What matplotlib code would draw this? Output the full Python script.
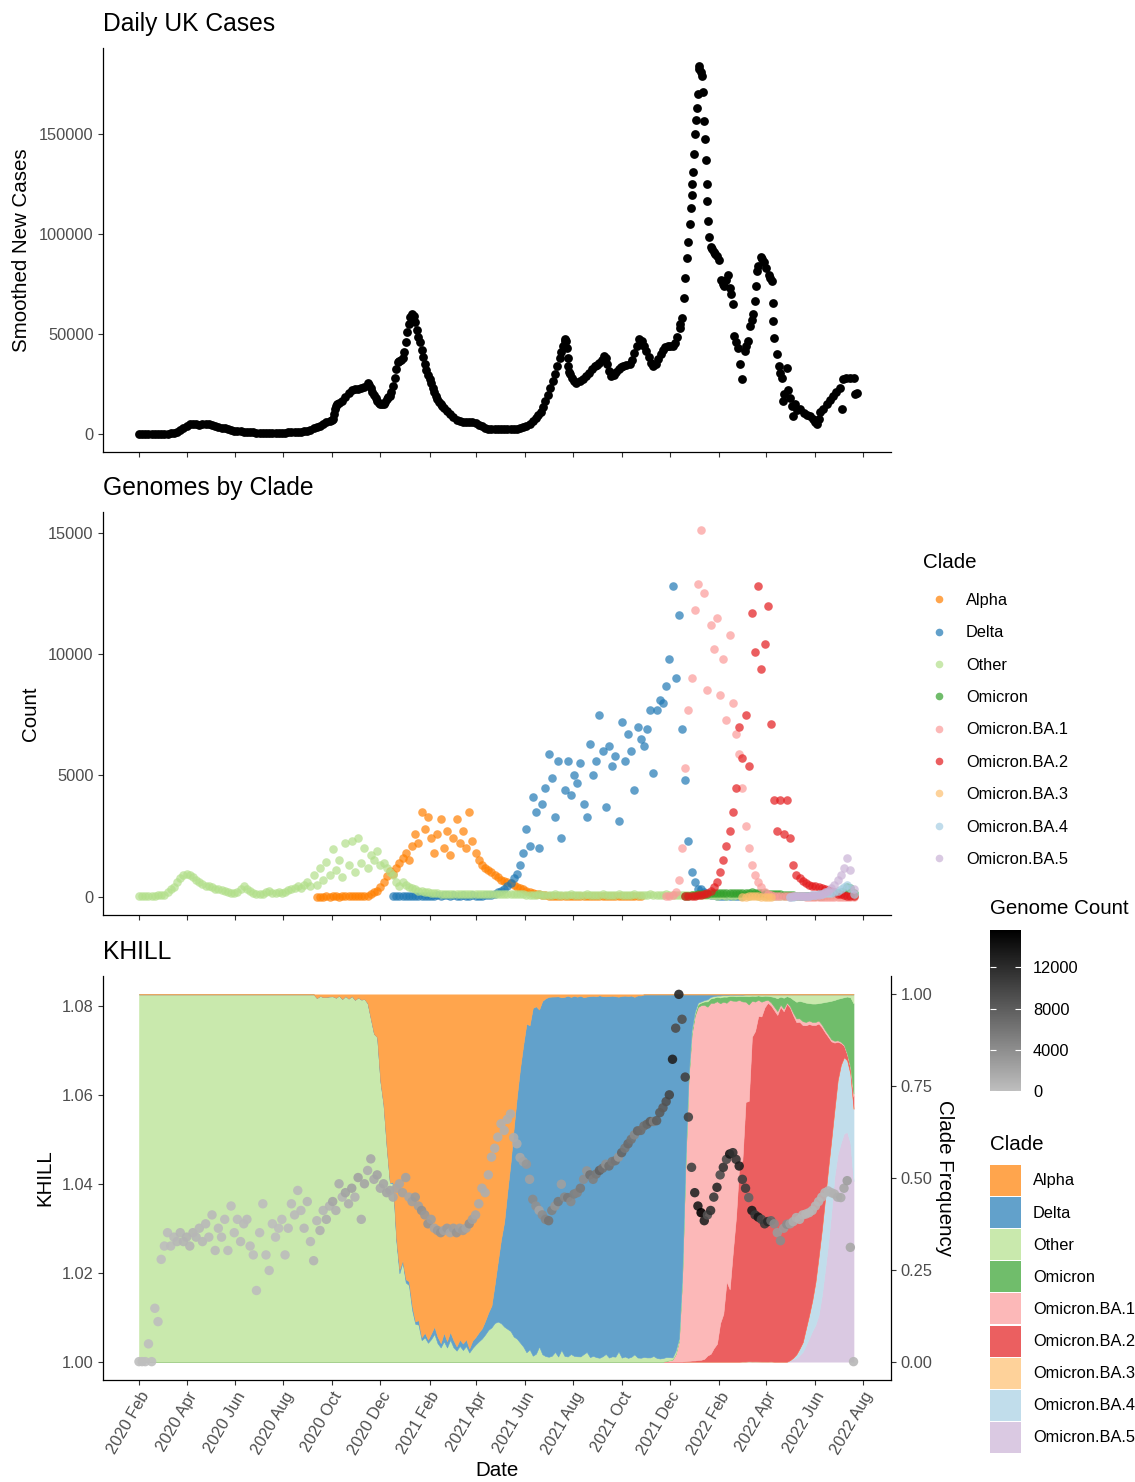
import numpy as np
import matplotlib
matplotlib.use("Agg")
import matplotlib.pyplot as plt
import matplotlib.dates as mdates
from matplotlib.colors import LinearSegmentedColormap, Normalize, to_rgb
from matplotlib.lines import Line2D
from matplotlib.patches import Patch

plt.rcParams['font.family'] = ['Liberation Sans', 'DejaVu Sans']

t0 = np.datetime64('2020-02-01')

# smoothed new UK cases as (day since 2020-02-01, cases)
uk_cases = [
    (0, 0), (4, 0), (8, 0), (12, 0), (16, 0), (20, 0), (24, 0), (28, 0), (32, 0), (36, 50),
    (40, 100), (44, 200), (48, 700), (52, 1800), (56, 3000), (60, 3900), (64, 4600), (68, 4800),
    (72, 4600), (76, 4500), (80, 4600), (84, 4800), (88, 4600), (92, 4200), (96, 3800), (100, 3400),
    (104, 3000), (108, 2600), (112, 2200), (116, 1800), (120, 1500), (124, 1300), (128, 1100),
    (132, 950), (136, 800), (140, 700), (144, 600), (148, 500), (152, 400), (156, 350), (160, 300),
    (164, 250), (168, 250), (172, 300), (176, 350), (180, 450), (184, 550), (188, 650), (192, 700),
    (196, 800), (200, 900), (204, 1000), (208, 1200), (212, 1500), (216, 2000), (220, 2600),
    (224, 3100), (228, 3800), (232, 4800), (236, 5600), (240, 6400), (243, 7000), (245, 7300),
    (246, 10000), (247, 12500), (248, 14000), (249, 14800), (252, 15500), (256, 16500), (260, 18500),
    (264, 20500), (268, 22000), (272, 22300), (276, 22500), (280, 22700), (284, 23500), (288, 25500),
    (290, 24500), (292, 23000), (294, 21000), (296, 19500), (298, 18000), (300, 16500), (302, 15500),
    (304, 15000), (306, 14800), (308, 15000), (310, 16000), (312, 17500), (314, 18500), (316, 19000),
    (318, 21000), (320, 24000), (322, 28000), (324, 32500), (326, 36000), (328, 36500), (330, 37000),
    (332, 38000), (334, 41000), (336, 46000), (338, 51000), (340, 55000), (342, 58500), (344, 60000),
    (346, 59000), (348, 56000), (350, 52000), (352, 48500), (354, 46000), (356, 42000), (358, 38500),
    (360, 35000), (362, 32000), (364, 29500), (366, 27500), (368, 25500), (370, 23000), (372, 21000),
    (374, 19000), (376, 17500), (378, 16000), (380, 14800), (382, 13800), (384, 13000), (388, 11500),
    (392, 10000), (396, 8100), (400, 7000), (404, 6300), (408, 6000), (412, 5800), (416, 5700),
    (420, 5600), (424, 5200), (428, 4500), (432, 3600), (436, 2800), (440, 2400), (444, 2300),
    (448, 2300), (452, 2300), (456, 2300), (460, 2200), (464, 2100), (468, 2100), (472, 2200),
    (476, 2400), (480, 2800), (484, 3100), (488, 3800), (492, 4800), (496, 6200), (500, 7800),
    (503, 9500), (506, 11000), (509, 13500), (512, 16500), (515, 19500), (518, 23100), (521, 26500),
    (524, 30000), (527, 34000), (530, 38000), (532, 41000), (534, 44000), (536, 46500), (537, 47200),
    (538, 46500), (539, 43000), (540, 38000), (541, 34000), (542, 31000), (543, 29800), (545, 28000),
    (548, 26500), (551, 25600), (555, 26500), (559, 27500), (563, 28900), (567, 30500), (571, 32500),
    (574, 33900), (577, 34500), (580, 35500), (583, 37000), (586, 38900), (588, 38000), (590, 35000),
    (592, 31500), (595, 28900), (598, 29500), (601, 31000), (604, 32500), (607, 33500), (610, 33900),
    (614, 34200), (618, 34700), (621, 37000), (624, 40500), (627, 44000), (630, 47200), (633, 46500),
    (636, 44000), (639, 41500), (642, 38500), (645, 35500), (648, 33900), (651, 35000), (654, 37500),
    (657, 40000), (660, 42000), (663, 43500), (666, 43900), (669, 43900), (672, 44000), (675, 45500),
    (678, 48500), (681, 53000), (682, 55000), (684, 58000), (686, 68000), (688, 78000), (690, 88000),
    (692, 96000), (694, 105000), (695, 113000), (696, 119500), (697, 125000), (698, 131000),
    (699, 140000), (700, 150000), (702, 157000), (703, 163000), (704, 170000), (705, 182500),
    (706, 184000), (708, 181000), (709, 179000), (711, 171000), (712, 156500), (713, 147700),
    (714, 137000), (715, 125000), (716, 116500), (717, 106500), (718, 98700), (720, 93700),
    (722, 92500), (724, 91000), (726, 90000), (728, 89000), (731, 87000), (733, 77000), (735, 75000),
    (737, 74000), (740, 77000), (742, 79600), (744, 73000), (746, 70000), (748, 64700), (750, 48900),
    (752, 46000), (755, 43000), (757, 34700), (760, 27300), (763, 41400), (765, 44000), (767, 46400),
    (770, 53800), (772, 57000), (774, 59700), (776, 66300), (777, 73800), (778, 81300), (780, 84000),
    (783, 88700), (785, 87500), (787, 86200), (790, 83000), (793, 79600), (795, 78000), (797, 76300),
    (798, 65500), (799, 56300), (800, 48000), (803, 39700), (806, 33900), (808, 30500), (810, 28100),
    (811, 16500), (813, 20000), (816, 33000), (818, 22000), (820, 18000), (822, 14000), (824, 9000),
    (826, 14800), (829, 12000), (833, 12300), (837, 10500), (841, 9500), (845, 9000), (849, 7500),
    (852, 6000), (854, 4800), (856, 7500), (858, 10600), (862, 12500), (866, 14800), (870, 17000),
    (874, 18900), (878, 21000), (883, 23100), (885, 12300), (887, 27300), (891, 28100), (895, 28100),
    (900, 28100), (902, 20000), (904, 20600),
]

# genomes per clade, sampled every 4 days from 2020-02-01 (index 0..225)
sample_day = np.arange(0, 901, 4)

other_counts = [
    10, 20, 20, 30, 30, 40, 50, 60, 80,
    200, 300, 400, 600, 780, 900, 950, 900, 800, 680, 600,
    520, 460, 420, 380, 330, 300, 260, 230, 200, 170, 150,
    200, 330, 420, 330, 220, 150, 110, 90, 110, 180,
    220, 170, 140, 180, 150, 200, 260, 300, 350, 420,
    350, 500, 600, 450,
    900, 500, 1200, 700, 1450, 900, 1950, 1100, 1500, 800, 2200, 1300, 2300, 1000, 2400, 1400, 2000, 1200,
    1700, 1500, 1900, 1300, 1400, 1200, 1000, 900,
    600, 450, 600, 500, 400, 350, 300, 250, 220, 200, 180, 160, 150, 140, 130,
    120, 110, 110, 100, 100, 100, 90, 90, 90, 90,
    90, 90, 90, 100, 110, 110, 120, 120, 110, 100, 100, 100, 90, 90, 90,
    90, 80, 80, 70, 80, 90, 80, 70, 80, 80, 90, 80, 80, 70, 80, 90, 80, 70, 80, 80,
    90, 80, 80, 70, 80, 90, 80, 70, 80, 80, 90, 80, 80, 70, 80, 90, 80, 70, 80, 80,
    90, 80, 80, 70, 80, 90, 80, 70, 80, 80,
    70, 70, 60, 60, 60, 60, 50, 50, 50, 50,
    50, 40, 50, 50, 40, 50, 40, 50, 50, 40, 50, 40, 50, 50, 40, 50, 40, 50, 40,
    30, 30, 25, 25, 20, 20, 20, 20, 15, 15, 15, 15, 15, 15, 15, 15, 15, 15, 15, 15,
    15, 15, 15, 15, 15, 15,
]
alpha_from = 56
alpha_counts = [
    5, 5, 5, 10, 5, 10, 10, 5, 10, 10, 15, 10, 15, 20, 20,
    25, 30,
    120, 180, 250, 400, 600, 850, 1050, 950,
    1200, 1400, 1600, 1800, 1500, 2100, 2600, 2200, 3500, 2800, 3300, 2400, 1800, 2600, 3200, 2000,
    2700, 1700, 2400, 3200, 2200, 2700, 2000, 3500, 2300, 1800,
    1500, 1300, 1200, 1100, 1000, 900, 800, 700, 650, 600, 550, 480, 400, 350, 300, 250, 200, 160,
    120, 90, 70, 50, 40,
    30, 20, 30, 20, 30, 20, 30, 20, 30, 20, 30, 20, 30, 20, 30, 20, 30, 20, 30, 20, 30, 20, 30, 20,
    30, 20, 30, 20, 20,
]
delta_from = 80
delta_counts = [
    10, 10, 20, 10, 20, 20, 30, 20, 30, 30, 40, 30, 40, 40, 50, 40, 50, 50, 40, 50, 40, 40, 50, 40,
    40, 50, 40, 40,
    40, 50, 60, 70, 120, 180, 240, 300, 420, 550, 750, 950, 1300, 1800, 2800,
    2100, 4100, 3500, 2000, 3800, 4500, 5900, 4900, 3300, 5600, 2400, 4400, 5600, 4200, 5000, 4700,
    5500, 3800, 3300, 6300, 5000, 5600, 7500, 6000, 3700, 6200, 5400, 5800, 3100, 7200, 5600, 6700,
    6000, 4400, 7000, 6500, 6200, 6900, 7700, 5100, 7700, 8100, 8000, 8700, 9800, 12800, 9000, 11600,
    6900, 4800, 2300, 1000, 600, 300, 300, 200, 120, 80, 50, 40, 30, 20, 20,
    10, 10, 10, 10, 10,
]
omicron_from = 172
omicron_counts = [
    20, 40, 60, 80, 100, 110, 120, 130, 140,
    150, 150, 150, 160, 160, 150, 150, 140, 140, 150,
    160, 170, 180, 170, 160, 150, 140, 130, 120, 110,
    100, 90, 80, 70, 60, 50, 45, 40, 40, 35,
    30, 30, 30, 30, 40, 55, 70, 90, 110, 140,
    180, 250, 400, 350, 150,
]
ba1_from = 166
ba1_counts = [
    20, 40, 80, 200, 700, 2000, 5300, 7700, 9000, 11800, 12900, 15100, 12500, 8500, 11200, 10200,
    11500, 8300, 9800, 7300, 10800, 8000, 6700, 5900, 4500, 2900, 2000, 1300, 900, 600, 400, 200,
    100, 60, 40,
    30, 25, 20, 15, 10, 10, 10, 8, 8, 6, 6, 5, 5, 5, 5, 5, 5, 5, 5, 5, 5, 5, 5, 5, 5,
]
ba2_from = 172
ba2_counts = [
    10, 20, 30, 40, 60, 80, 100, 150, 250, 400, 600, 1000, 1500, 2100, 2700, 3500, 4500, 7000,
    5700, 7500, 5400, 11700, 10100, 12800, 9400, 10400, 12000, 7100, 4000, 2700, 4000, 2600, 4000,
    2400, 1300, 900, 750, 650, 550, 500, 450, 420, 400, 370, 330, 280, 230, 180, 130, 90, 60, 40,
    30, 20,
]
ba3_from = 190
ba3_counts = [5, 5, 10, 10, 10, 10, 5, 5, 5, 5]
ba4_from = 205
ba4_counts = [5, 5, 10, 15, 20, 30, 40, 50, 70, 100, 120, 140, 160, 170, 180, 250, 320, 400, 500, 350, 120]
ba5_from = 205
ba5_counts = [5, 10, 10, 15, 20, 30, 40, 50, 60, 80, 120, 180, 250, 350, 500, 700, 900, 1200, 1600, 1100, 300]

# KHILL on the same 4-day samples
khill = [
    1.000, 1.000, 1.000, 1.004, 1.000, 1.012, 1.009, 1.023, 1.026, 1.029,
    1.026, 1.028, 1.027, 1.029, 1.027, 1.028, 1.026, 1.029, 1.028, 1.030,
    1.027, 1.031, 1.028, 1.033, 1.025, 1.030, 1.028, 1.032, 1.025, 1.035,
    1.029, 1.032, 1.027, 1.031, 1.032, 1.026, 1.024, 1.016, 1.029, 1.0355,
    1.024, 1.0205, 1.031, 1.028, 1.030, 1.032, 1.024, 1.030, 1.0355, 1.033,
    1.0385, 1.034, 1.030, 1.036, 1.027, 1.0227, 1.0317, 1.0295, 1.034, 1.032,
    1.035, 1.036, 1.034, 1.040, 1.037, 1.038, 1.0355, 1.039, 1.037, 1.0414,
    1.032, 1.040, 1.043, 1.0456, 1.041, 1.042, 1.039, 1.040, 1.038, 1.0385,
    1.037, 1.039, 1.040, 1.038, 1.0414, 1.037, 1.036, 1.037, 1.035, 1.034,
    1.033, 1.031, 1.032, 1.030, 1.0295, 1.029, 1.0295, 1.030, 1.029, 1.030,
    1.029, 1.030, 1.0295, 1.030, 1.031, 1.032, 1.033, 1.0355, 1.039, 1.038,
    1.042, 1.046, 1.048, 1.0505, 1.0535, 1.052, 1.0545, 1.0557, 1.0504, 1.049,
    1.0459, 1.045, 1.0444, 1.041, 1.0365, 1.035, 1.034, 1.033, 1.032, 1.0317,
    1.034, 1.035, 1.036, 1.0399, 1.037, 1.0369, 1.036, 1.0377, 1.038, 1.039,
    1.041, 1.0429, 1.042, 1.041, 1.0422, 1.043, 1.0435, 1.0444, 1.044, 1.045,
    1.0452, 1.046, 1.047, 1.048, 1.049, 1.050, 1.051, 1.0519, 1.052, 1.053,
    1.0534, 1.054, 1.054, 1.0542, 1.056, 1.0571, 1.0585, 1.060, 1.068, 1.075,
    1.0826, 1.077, 1.064, 1.055, 1.0437, 1.038, 1.035, 1.0335, 1.0317, 1.033,
    1.034, 1.037, 1.0392, 1.042, 1.0437, 1.0455, 1.0467, 1.047, 1.0455, 1.044,
    1.041, 1.039, 1.0369, 1.034, 1.033, 1.0325, 1.032, 1.031, 1.0315, 1.0317,
    1.031, 1.029, 1.0272, 1.030, 1.0309, 1.031, 1.0315, 1.0324, 1.032, 1.033,
    1.0332, 1.0335, 1.034, 1.035, 1.036, 1.037, 1.038, 1.0384, 1.038, 1.0377,
    1.037, 1.0369, 1.039, 1.0407, 1.0257, 1.000,
]

clades = ['Alpha', 'Delta', 'Other', 'Omicron', 'Omicron.BA.1', 'Omicron.BA.2',
          'Omicron.BA.3', 'Omicron.BA.4', 'Omicron.BA.5']
clade_colors = ['#FF7F00', '#1F78B4', '#B2DF8A', '#33A02C', '#FB9A99', '#E31A1C',
                '#FDBF6F', '#A6CEE3', '#CAB2D6']


def on_grid(first, vals):
    arr = np.full(len(sample_day), np.nan)
    arr[first:first + len(vals)] = vals
    return arr


counts = {
    'Alpha': on_grid(alpha_from, alpha_counts),
    'Delta': on_grid(delta_from, delta_counts),
    'Other': on_grid(0, other_counts),
    'Omicron': on_grid(omicron_from, omicron_counts),
    'Omicron.BA.1': on_grid(ba1_from, ba1_counts),
    'Omicron.BA.2': on_grid(ba2_from, ba2_counts),
    'Omicron.BA.3': on_grid(ba3_from, ba3_counts),
    'Omicron.BA.4': on_grid(ba4_from, ba4_counts),
    'Omicron.BA.5': on_grid(ba5_from, ba5_counts),
}

sample_dates = t0 + sample_day.astype('timedelta64[D]')
case_day = np.array([d for d, v in uk_cases])
case_val = np.array([v for d, v in uk_cases])
case_dates = t0 + case_day.astype('timedelta64[D]')

total = np.nansum(np.vstack([counts[c] for c in clades]), axis=0)
khill = np.array(khill)


def faded(c, a=0.7):
    r, g, b = to_rgb(c)
    return (a * r + 1 - a, a * g + 1 - a, a * b + 1 - a)


# ---- figure layout (pixel-based)
W, H = 1135, 1482
fig = plt.figure(figsize=(W / 100, H / 100), dpi=100)


def box(l, t, r, b):
    return [l / W, 1 - b / H, (r - l) / W, (b - t) / H]


ax1 = fig.add_axes(box(103, 48, 891, 452))
ax2 = fig.add_axes(box(103, 512, 891, 915))
ax3 = fig.add_axes(box(103, 976, 891, 1380))

tick_fs = 11.8
lab_fs = 14.8
title_fs = 17.7
grey30 = '#4D4D4D'

x0 = mdates.date2num(t0)
ticks = np.arange('2020-02', '2022-09', 2, dtype='datetime64[M]').astype('datetime64[D]')

for ax in (ax1, ax2, ax3):
    for s in ('top', 'right'):
        ax.spines[s].set_visible(False)
    for s in ('left', 'bottom'):
        ax.spines[s].set_linewidth(0.9)
    ax.tick_params(length=3.7, width=0.8, color='#333333', labelsize=tick_fs,
                   labelcolor=grey30, pad=3)
    ax.set_xlim(x0 - 45.3, x0 + 947.2)
    ax.set_xticks(mdates.date2num(ticks))

# ---- panel 1: daily cases
ax1.scatter(case_dates, case_val, s=40, color='black', linewidths=0, zorder=3)
ax1.set_xlim(x0 - 45.3, x0 + 947.2)
ax1.set_ylim(-0.05 * case_val.max(), 1.05 * case_val.max())
ax1.set_yticks([0, 50000, 100000, 150000])
ax1.set_yticklabels(['0', '50000', '100000', '150000'])
ax1.tick_params(axis='x', labelbottom=False)
ax1.set_title('Daily UK Cases', loc='left', fontsize=title_fs, pad=12)
ax1.set_ylabel('Smoothed New Cases', fontsize=lab_fs, va='center')
ax1.yaxis.set_label_coords(-0.1028, 0.5)

# ---- panel 2: genomes by clade
cmax = np.nanmax([np.nanmax(counts[c]) for c in clades])
for name, col in zip(clades, clade_colors):
    ax2.scatter(sample_dates, counts[name], s=38, color=col, alpha=0.7, linewidths=0, zorder=3)
ax2.set_xlim(x0 - 45.3, x0 + 947.2)
ax2.set_ylim(-0.05 * cmax, 1.05 * cmax)
ax2.set_yticks([0, 5000, 10000, 15000])
ax2.set_yticklabels(['0', '5000', '10000', '15000'])
ax2.tick_params(axis='x', labelbottom=False)
ax2.set_title('Genomes by Clade', loc='left', fontsize=title_fs, pad=12)
ax2.set_ylabel('Count', fontsize=lab_fs, va='center')
ax2.yaxis.set_label_coords(-0.0926, 0.5)

pt_handles = [Line2D([0], [0], marker='o', ls='none', markerfacecolor=c, markeredgecolor='none',
                     alpha=0.7, markersize=5.5) for c in clade_colors]
fig.legend(pt_handles, clades, loc='upper left', bbox_to_anchor=(923 / W, 1 - 593 / H),
           frameon=False, borderpad=0, borderaxespad=0, handlelength=1.95, handletextpad=0.67,
           labelspacing=1.06, fontsize=tick_fs)
fig.text(923 / W, 1 - 562 / H, 'Clade', fontsize=lab_fs, ha='left', va='center')

# ---- panel 3: KHILL with clade frequency
scale = khill.max() - 1.0
freq_base = 1.0
stack_order = clades[::-1]  # bottom to top
lower = np.zeros(len(sample_day))
for name in stack_order:
    share = np.nan_to_num(counts[name]) / total
    upper = lower + share
    col = faded(clade_colors[clades.index(name)])
    ax3.fill_between(sample_dates, freq_base + lower * scale, freq_base + upper * scale,
                     facecolor=col, edgecolor=col, linewidth=0.4, zorder=1)
    lower = upper

grey_map = LinearSegmentedColormap.from_list('greys', ['#BEBEBE', '#000000'])
norm = Normalize(vmin=0, vmax=total.max())
sc = ax3.scatter(sample_dates, khill, c=total, cmap=grey_map, norm=norm, s=46,
                 linewidths=0, alpha=0.9, zorder=3)
pad3 = 0.05 * (khill.max() - 1.0)
ax3.set_xlim(x0 - 45.3, x0 + 947.2)
ax3.set_ylim(1.0 - pad3, khill.max() + pad3)
ax3.set_yticks([1.00, 1.02, 1.04, 1.06, 1.08])
ax3.set_yticklabels(['1.00', '1.02', '1.04', '1.06', '1.08'])
ax3.set_xticklabels([np.datetime64(t, 'D').astype(object).strftime('%Y %b') for t in ticks],
                    rotation=60, ha='right', va='top', rotation_mode='anchor')
ax3.set_title('KHILL', loc='left', fontsize=title_fs, pad=12)
ax3.set_ylabel('KHILL', fontsize=lab_fs, va='center')
ax3.yaxis.set_label_coords(-0.0736, 0.5)
ax3.set_xlabel('Date', fontsize=lab_fs, va='center')
ax3.xaxis.set_label_coords(0.5, -0.2252)

axr = ax3.twinx()
axr.set_xlim(ax3.get_xlim())
lo, hi = ax3.get_ylim()
axr.set_ylim((lo - freq_base) / scale, (hi - freq_base) / scale)
axr.set_yticks([0, 0.25, 0.5, 0.75, 1.0])
axr.set_yticklabels(['0.00', '0.25', '0.50', '0.75', '1.00'])
for s in ('top', 'left', 'bottom'):
    axr.spines[s].set_visible(False)
axr.spines['right'].set_linewidth(0.9)
axr.tick_params(length=3.7, width=0.8, color='#333333', labelsize=tick_fs, labelcolor=grey30, pad=3)
axr.set_ylabel('Clade Frequency', fontsize=lab_fs, rotation=270, va='center', ha='center')
axr.yaxis.set_label_coords(1.0685, 0.5)

# colour bar for genome count
cax = fig.add_axes(box(990, 930, 1021, 1091))
cb = fig.colorbar(sc, cax=cax, ticks=[0, 4000, 8000, 12000])
cb.outline.set_visible(False)
cb.solids.set_alpha(1)
cax.tick_params(direction='in', length=4.5, width=0.8, color='white', left=True, right=True,
                labelleft=False, labelright=True, labelsize=tick_fs, labelcolor='black', pad=8.6)
fig.text(990 / W, 1 - 909 / H, 'Genome Count', fontsize=lab_fs, ha='left', va='center')

patch_handles = [Patch(facecolor=faded(c), edgecolor='none') for c in clade_colors]
fig.legend(patch_handles, clades, loc='upper left', bbox_to_anchor=(990 / W, 1 - 1165 / H),
           frameon=False, borderpad=0, borderaxespad=0, handlelength=1.89, handleheight=2.53,
           labelspacing=0.07, handletextpad=0.73, fontsize=tick_fs)
fig.text(990 / W, 1 - 1144 / H, 'Clade', fontsize=lab_fs, ha='left', va='center')

fig.savefig('out.png', dpi=100)
